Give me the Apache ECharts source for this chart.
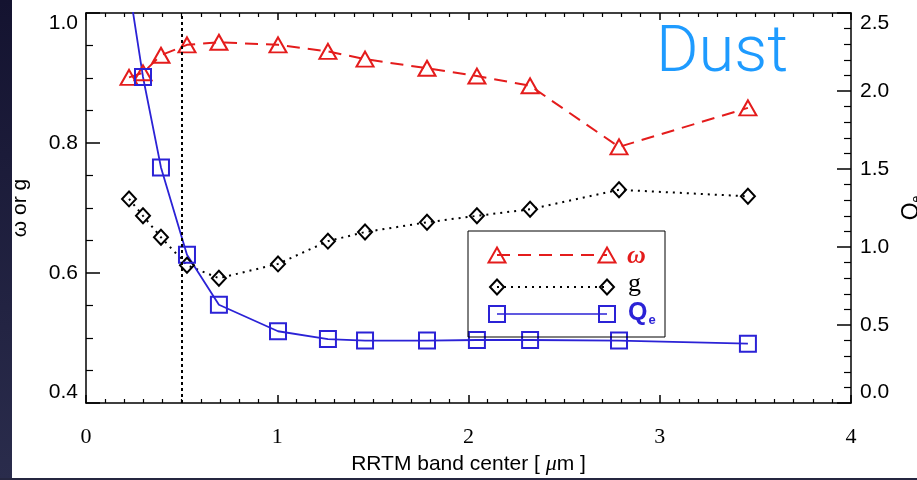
<!DOCTYPE html>
<html>
<head>
<meta charset="utf-8">
<script src="https://cdn.jsdelivr.net/npm/echarts@6/dist/echarts.min.js"></script>
<style>
html,body{margin:0;padding:0;background:#fff;}
#chart{width:917px;height:480px;}
</style>
</head>
<body>
<div id="chart"></div>
<script>
// RRTM band centres (µm)
const bandCenter = [0.225, 0.298, 0.392, 0.528, 0.695, 1.004, 1.265, 1.459, 1.783, 2.044, 2.322, 2.787, 3.461];
// single scattering albedo ω
const omega = [0.901, 0.908, 0.935, 0.951, 0.955, 0.951, 0.941, 0.929, 0.915, 0.903, 0.888, 0.794, 0.854];
// asymmetry parameter g
const gAsym = [0.714, 0.688, 0.655, 0.612, 0.592, 0.614, 0.649, 0.663, 0.678, 0.688, 0.698, 0.728, 0.718];
// extinction efficiency Qe (right axis)
const qExt = [2.67, 2.09, 1.51, 0.95, 0.63, 0.46, 0.41, 0.40, 0.40, 0.404, 0.404, 0.40, 0.38];
const xTicks = [0, 1, 2, 3, 4];
const leftTicks = [0.4, 0.6, 0.8, 1.0];
const rightTicks = [0.0, 0.5, 1.0, 1.5, 2.0, 2.5];
const markerX = 0.5;

const RED = '#e41c1c';
const BLUE = '#2b22d6';
const BLACK = '#000';

const pairs = (ys) => bandCenter.map((x, i) => [x, ys[i]]);

const chart = echarts.init(document.getElementById('chart'), null, {renderer: 'canvas'});

const labelFont = {color: BLACK, fontFamily: '"Liberation Sans", Arial, Helvetica, sans-serif', fontSize: 21};

const option = {
  animation: false,
  backgroundColor: '#fff',
  grid: {left: 86, top: 13, width: 765, height: 390, containLabel: false, outerBoundsMode: 'none'},
  xAxis: [
    {
      type: 'value', position: 'bottom', min: xTicks[0], max: xTicks[xTicks.length - 1], interval: 1,
      axisLine: {show: true, onZero: false, lineStyle: {color: BLACK, width: 1.5}},
      axisTick: {show: true, inside: true, length: 8, lineStyle: {color: BLACK, width: 1.5}},
      minorTick: {show: true, splitNumber: 10, length: 4, lineStyle: {color: BLACK, width: 1.2}},
      splitLine: {show: false},
      axisLabel: {margin: 23, color: BLACK, fontFamily: '"Liberation Serif", "Times New Roman", serif', fontSize: 22,
        formatter: v => String(v)},
      name: 'RRTM band center [ {mu|μ}m ]',
      nameLocation: 'middle', nameGap: 50,
      nameTextStyle: {color: BLACK, fontFamily: '"Liberation Sans", Arial, sans-serif', fontSize: 21,
        rich: {mu: {fontStyle: 'italic', fontFamily: '"Liberation Serif", serif', fontSize: 22, color: BLACK}}}
    },
    {
      type: 'value', position: 'top', min: xTicks[0], max: xTicks[xTicks.length - 1], interval: 1,
      axisLine: {show: true, onZero: false, lineStyle: {color: BLACK, width: 1.5}},
      axisTick: {show: true, inside: true, length: 7, lineStyle: {color: BLACK, width: 1.5}},
      minorTick: {show: true, splitNumber: 10, length: 4, lineStyle: {color: BLACK, width: 1.2}},
      splitLine: {show: false},
      axisLabel: {show: false}
    }
  ],
  yAxis: [
    {
      type: 'value', position: 'left', min: leftTicks[0], max: leftTicks[leftTicks.length - 1], interval: 0.2,
      axisLine: {show: true, onZero: false, lineStyle: {color: BLACK, width: 1.5}},
      axisTick: {show: true, inside: true, length: 14, lineStyle: {color: BLACK, width: 1.5}},
      minorTick: {show: true, splitNumber: 4, length: 7, lineStyle: {color: BLACK, width: 1.2}},
      splitLine: {show: false},
      axisLabel: Object.assign({margin: 8, formatter: v => v.toFixed(1),
        verticalAlignMaxLabel: 'top', verticalAlignMinLabel: 'bottom'}, labelFont),
      name: 'ω or g', nameLocation: 'middle', nameGap: 55,
      nameTextStyle: {color: BLACK, fontFamily: '"Liberation Sans", Arial, sans-serif', fontSize: 21}
    },
    {
      type: 'value', position: 'right', min: rightTicks[0], max: rightTicks[rightTicks.length - 1], interval: 0.5,
      axisLine: {show: true, onZero: false, lineStyle: {color: BLACK, width: 1.5}},
      axisTick: {show: true, inside: true, length: 14, lineStyle: {color: BLACK, width: 1.5}},
      minorTick: {show: true, splitNumber: 5, length: 7, lineStyle: {color: BLACK, width: 1.2}},
      splitLine: {show: false},
      axisLabel: Object.assign({margin: 9, formatter: v => v.toFixed(1),
        verticalAlignMaxLabel: 'top', verticalAlignMinLabel: 'bottom'}, labelFont),
      name: '{q|Q}{e|e}', nameLocation: 'middle', nameGap: 47, nameRotate: 90,
      nameTextStyle: {rich: {
        q: {color: BLACK, fontFamily: '"Liberation Sans", Arial, sans-serif', fontSize: 23},
        e: {color: BLACK, fontFamily: '"Liberation Sans", Arial, sans-serif', fontSize: 12, verticalAlign: 'bottom', padding: [10, 0, 0, 0]}
      }}
    }
  ],
  series: [
    {
      name: 'ω', type: 'line', xAxisIndex: 0, yAxisIndex: 0, data: pairs(omega),
      symbol: 'triangle', symbolSize: [17, 15], showAllSymbol: true,
      itemStyle: {color: 'rgba(0,0,0,0)', borderColor: RED, borderWidth: 2},
      lineStyle: {color: RED, width: 2, type: [13, 8]},
      emphasis: {disabled: true}, z: 3
    },
    {
      name: 'g', type: 'line', xAxisIndex: 0, yAxisIndex: 0, data: pairs(gAsym),
      symbol: 'diamond', symbolSize: [14, 15], showAllSymbol: true,
      itemStyle: {color: 'rgba(0,0,0,0)', borderColor: BLACK, borderWidth: 2},
      lineStyle: {color: BLACK, width: 2, type: [2, 5]},
      emphasis: {disabled: true}, z: 3,
      markLine: {
        silent: true, symbol: ['none', 'none'], label: {show: false},
        lineStyle: {color: BLACK, width: 2, type: [3, 3]},
        data: [{xAxis: markerX}]
      }
    },
    {
      name: 'Qe', type: 'line', xAxisIndex: 0, yAxisIndex: 1, data: pairs(qExt),
      symbol: 'rect', symbolSize: 16, showAllSymbol: true, clip: true,
      itemStyle: {color: 'rgba(0,0,0,0)', borderColor: BLUE, borderWidth: 2},
      lineStyle: {color: BLUE, width: 1.8},
      emphasis: {disabled: true}, z: 3
    }
  ],
  graphic: [
    // slide frame strips
    {type: 'rect', shape: {x: 0, y: 0, width: 12, height: 480}, z: 100,
      style: {fill: new echarts.graphic.LinearGradient(0, 0, 0, 1, [{offset: 0, color: '#141330'}, {offset: 1, color: '#2a2c4c'}])}},
    {type: 'rect', shape: {x: 0, y: 478, width: 917, height: 2}, z: 100, style: {fill: '#252640'}},
    // "Dust" label
    {type: 'text', x: 656, y: 55, z: 50,
      style: {text: 'Dust', fill: '#1e9bff', fontSize: 65, fontWeight: 300,
        fontFamily: 'Roboto, "Liberation Sans", Arial, sans-serif', verticalAlign: 'middle', align: 'left'}},
    // legend
    {type: 'rect', shape: {x: 468, y: 231, width: 197, height: 106}, z: 50,
      style: {fill: 'none', stroke: BLACK, lineWidth: 1}},
    {type: 'line', shape: {x1: 497, y1: 255, x2: 607, y2: 255}, z: 50, style: {stroke: RED, lineWidth: 2, lineDash: [13, 8]}},
    {type: 'polygon', shape: {points: [[497, 247.5], [505.5, 262.5], [488.5, 262.5]]}, z: 50, style: {fill: 'none', stroke: RED, lineWidth: 2}},
    {type: 'polygon', shape: {points: [[607, 247.5], [615.5, 262.5], [598.5, 262.5]]}, z: 50, style: {fill: 'none', stroke: RED, lineWidth: 2}},
    {type: 'text', x: 627, y: 256, z: 50, style: {text: 'ω', fill: RED, fontSize: 26, fontStyle: 'italic', fontWeight: 'bold',
      fontFamily: '"Liberation Serif", serif', verticalAlign: 'middle'}},
    {type: 'line', shape: {x1: 497, y1: 287, x2: 607, y2: 287}, z: 50, style: {stroke: BLACK, lineWidth: 2, lineDash: [2, 5]}},
    {type: 'polygon', shape: {points: [[497, 279.5], [504, 287], [497, 294.5], [490, 287]]}, z: 50, style: {fill: 'none', stroke: BLACK, lineWidth: 2}},
    {type: 'polygon', shape: {points: [[607, 279.5], [614, 287], [607, 294.5], [600, 287]]}, z: 50, style: {fill: 'none', stroke: BLACK, lineWidth: 2}},
    {type: 'text', x: 628, y: 284, z: 50, style: {text: 'g', fill: BLACK, fontSize: 26,
      fontFamily: '"Liberation Serif", serif', verticalAlign: 'middle'}},
    {type: 'line', shape: {x1: 497, y1: 314, x2: 607, y2: 314}, z: 50, style: {stroke: BLUE, lineWidth: 1.6}},
    {type: 'rect', shape: {x: 489, y: 306, width: 16, height: 16}, z: 50, style: {fill: 'none', stroke: BLUE, lineWidth: 2}},
    {type: 'rect', shape: {x: 599, y: 306, width: 16, height: 16}, z: 50, style: {fill: 'none', stroke: BLUE, lineWidth: 2}},
    {type: 'text', x: 628, y: 313, z: 50, style: {text: '{q|Q}{e|e}', verticalAlign: 'middle',
      rich: {
        q: {fill: BLUE, fontSize: 25, fontWeight: 'bold', fontFamily: '"Liberation Sans", Arial, sans-serif'},
        e: {fill: BLUE, fontSize: 13, fontWeight: 'bold', fontFamily: '"Liberation Sans", Arial, sans-serif', padding: [14, 0, 0, 1]}
      }}}
  ]
};

chart.setOption(option);
</script>
</body>
</html>
